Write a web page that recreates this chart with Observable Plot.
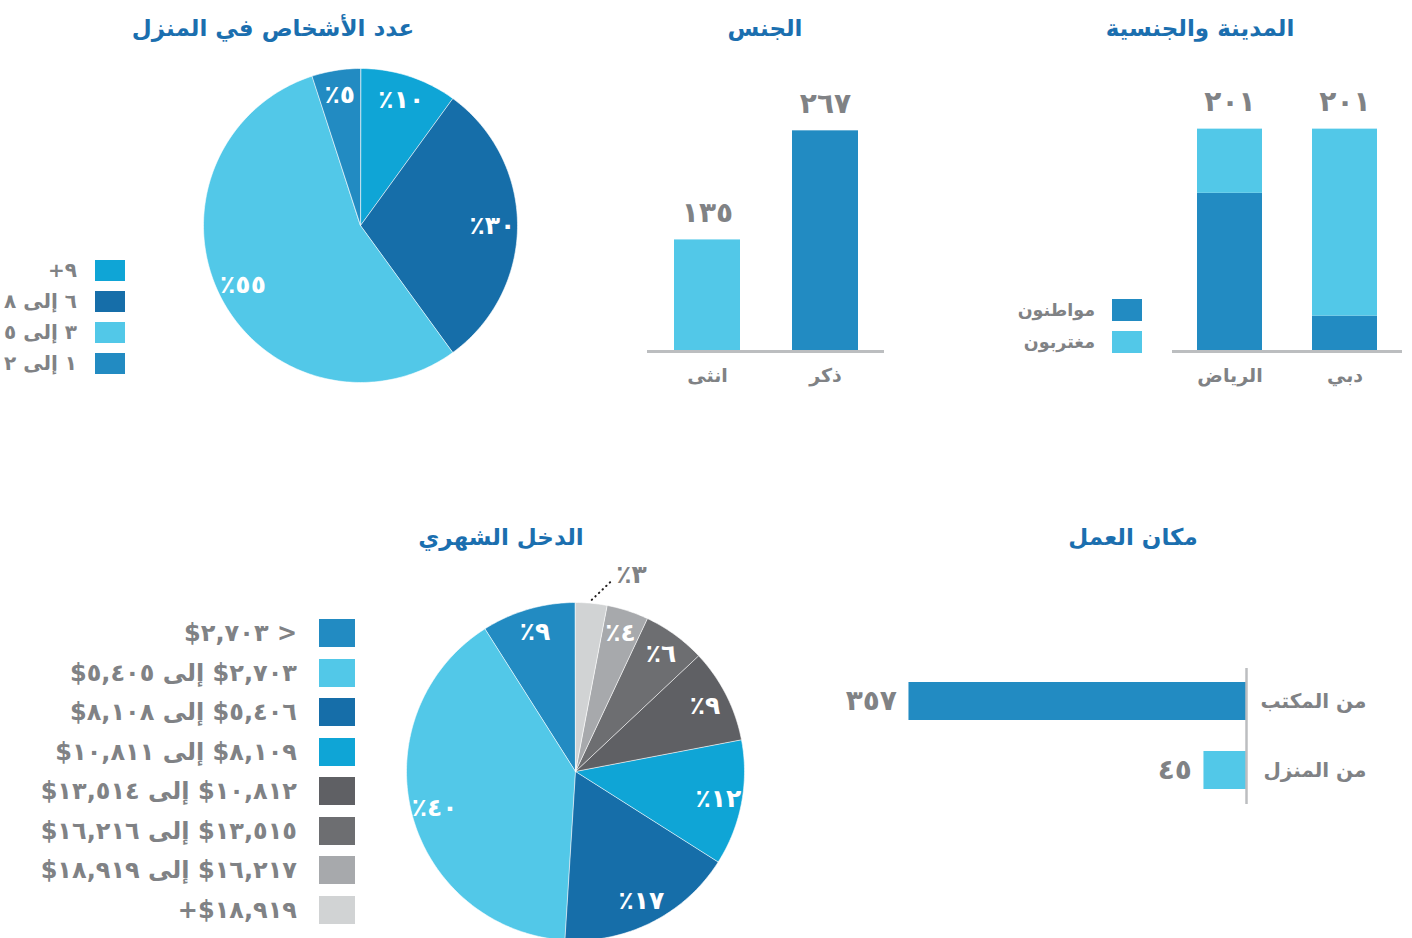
<!DOCTYPE html>
<html><head><meta charset="utf-8">
<script src="https://cdn.jsdelivr.net/npm/d3@7"></script>
<script src="https://cdn.jsdelivr.net/npm/@observablehq/plot@0.6"></script>
<style>
html,body{margin:0;padding:0;background:#fff;}
#root{position:relative;width:1412px;height:938px;overflow:hidden;font-family:"DejaVu Sans",sans-serif;}
.panel{position:absolute;}
.panel svg{overflow:visible;}
.title{position:absolute;color:#1b6faf;font-weight:bold;font-size:23px;direction:rtl;white-space:nowrap;transform:translate(-50%,-50%);line-height:1;}
.legbox{position:absolute;direction:rtl;}
.legbox > div{margin:0 !important;font-family:"DejaVu Sans",sans-serif !important;color:#808285;font-weight:bold;}
.legbox .lg-swatch{padding-bottom:0;}
.legbox .lg-swatch-label{overflow:visible !important;}
.legbox .lg-swatch > svg{margin-right:0;}
</style></head>
<body><div id="root"></div>
<script>
// ---------- data ----------
const householdSizes = ["٩+", "٦ إلى ٨", "٣ إلى ٥", "١ إلى ٢"];
const householdShares = [10, 30, 55, 5];

const genders = ["ذكر", "انثى"];
const genderCounts = [267, 135];

const cities = ["دبي", "الرياض"];
const nationalities = ["مواطنون", "مغتربون"];
const citizensByCity = [32, 143];
const expatsByCity = [169, 58];

const workPlaces = ["من المكتب", "من المنزل"];
const workCounts = [357, 45];

const incomeBands = [
  "< ٢,٧٠٣$",
  "٢,٧٠٣$ إلى ٥,٤٠٥$",
  "٥,٤٠٦$ إلى ٨,١٠٨$",
  "٨,١٠٩$ إلى ١٠,٨١١$",
  "١٠,٨١٢$ إلى ١٣,٥١٤$",
  "١٣,٥١٥$ إلى ١٦,٢١٦$",
  "١٦,٢١٧$ إلى ١٨,٩١٩$",
  "١٨,٩١٩$+"
];
const incomeShares = [9, 40, 17, 12, 9, 6, 4, 3];

const titles = ["عدد الأشخاص في المنزل", "الجنس", "المدينة والجنسية", "الدخل الشهري", "مكان العمل"];

// ---------- palette ----------
const MID = "#228bc2", LIGHT = "#52c8e8", DARK = "#166ea9", CYAN = "#0fa5d6";
const GRAY_TXT = "#808285", AXIS = "#bcbec0";
const householdColors = [CYAN, DARK, LIGHT, MID];
const incomeColors = [MID, LIGHT, DARK, CYAN, "#5f6064", "#6d6e71", "#a7a9ac", "#d1d3d4"];

const ar = n => String(n).replace(/\d/g, d => "٠١٢٣٤٥٦٧٨٩"[+d]);
const pct = v => "٪" + ar(v);

const root = document.getElementById("root");
function place(node, left, top) {
  const d = document.createElement("div");
  d.className = "panel"; d.style.left = left + "px"; d.style.top = top + "px";
  d.appendChild(node); root.appendChild(d); return d;
}
function title(text, cx, cy) {
  const d = document.createElement("div");
  d.className = "title"; d.textContent = text;
  d.style.left = cx + "px"; d.style.top = cy + "px";
  root.appendChild(d);
}
function legend(domain, range, {right, top, sw, sh, gap, pitch, fontSize}) {
  const lg = Plot.legend({color: {type: "ordinal", domain, range}, legend: "swatches", columns: 1,
    swatchWidth: sw, swatchHeight: sh, className: "lg"});
  const box = document.createElement("div");
  box.className = "legbox";
  box.style.right = (1412 - right) + "px"; box.style.top = top + "px";
  box.appendChild(lg);
  lg.style.fontSize = fontSize + "px";
  lg.querySelectorAll(".lg-swatch").forEach(s => { s.style.marginBottom = (pitch - sh) + "px"; s.style.lineHeight = sh + "px"; s.style.height = sh + "px"; });
  lg.querySelectorAll(".lg-swatch > svg").forEach(s => { s.style.marginLeft = gap + "px"; });
  root.appendChild(box);
}

function pie({labels, values, colors, radius, size, clockwise, labelR, fontSize}) {
  const total = d3.sum(values);
  const s = clockwise ? 1 : -1;
  let acc = 0;
  const slices = labels.map((key, i) => {
    const a0 = acc / total * 2 * Math.PI; acc += values[i];
    const a1 = acc / total * 2 * Math.PI;
    return {key, value: values[i], a0: s * a0, a1: s * a1, mid: s * (a0 + a1) / 2, share: values[i] / total};
  });
  const pts = slices.flatMap(sl => {
    const n = Math.max(2, Math.ceil(Math.abs(sl.a1 - sl.a0) / (Math.PI / 180)));
    const arr = [{key: sl.key, x: 0, y: 0}];
    for (let k = 0; k <= n; k++) {
      const a = sl.a0 + (sl.a1 - sl.a0) * k / n;
      arr.push({key: sl.key, x: Math.sin(a), y: Math.cos(a)});
    }
    return arr;
  });
  const inside = slices.filter(d => d.share >= 0.035);
  const outside = slices.filter(d => d.share < 0.035);
  const lead = d => ({x1: 1.02 * Math.sin(d.mid), y1: 1.02 * Math.cos(d.mid),
                       x2: 1.16 * Math.sin(d.mid + 0.1), y2: 1.16 * Math.cos(d.mid + 0.1)});
  const half = size / 2 / radius;
  return Plot.plot({
    width: size, height: size, margin: 0,
    x: {domain: [-half, half], axis: null},
    y: {domain: [-half, half], axis: null},
    color: {domain: labels, range: colors},
    style: {fontFamily: "DejaVu Sans, sans-serif", overflow: "visible"},
    marks: [
      Plot.line(pts, {x: "x", y: "y", z: "key", fill: "key", stroke: "white", strokeWidth: 0.6, curve: "linear-closed"}),
      Plot.text(inside, {x: d => labelR * Math.sin(d.mid), y: d => labelR * Math.cos(d.mid), text: d => pct(d.value),
        fill: "white", fontSize, fontWeight: "bold"}),
      Plot.link(outside, {x1: d => lead(d).x1, y1: d => lead(d).y1, x2: d => lead(d).x2, y2: d => lead(d).y2,
        stroke: "#231f20", strokeWidth: 2, strokeDasharray: "0.5,4.5", strokeLinecap: "round"}),
      Plot.text(outside, {x: d => lead(d).x2, y: d => lead(d).y2, text: d => pct(d.value), textAnchor: "start",
        dx: 3, dy: -4, fill: GRAY_TXT, fontSize, fontWeight: "bold"})
    ]
  });
}

// ---------- household pie ----------
title(titles[0], 273, 28);
place(pie({labels: householdSizes, values: householdShares, colors: householdColors,
  radius: 157, size: 330, clockwise: true, labelR: 0.84, fontSize: 25}), 195, 60);
legend(householdSizes, householdColors, {right: 125, top: 260, sw: 30, sh: 21, gap: 18, pitch: 31, fontSize: 20});

// ---------- gender ----------
title(titles[1], 765, 28);
const genderData = genders.map((g, i) => ({gender: g, count: genderCounts[i]}));
place(Plot.plot({
  width: 250, height: 340, marginLeft: 7, marginRight: 6, marginTop: 0, marginBottom: 59,
  style: {fontFamily: "DejaVu Sans, sans-serif", overflow: "visible"},
  x: {domain: genders, reverse: true, padding: 0.443, paddingOuter: 0.22},
  y: {domain: [0, 340], axis: null},
  color: {domain: genders, range: [MID, LIGHT]},
  marks: [
    Plot.barY(genderData, {x: "gender", y: "count", fill: "gender"}),
    Plot.ruleY([0], {stroke: AXIS, strokeWidth: 3}),
    Plot.text(genderData, {x: "gender", y: "count", text: d => ar(d.count), dy: -27, fill: GRAY_TXT, fontSize: 28, fontWeight: "bold"}),
    Plot.axisX({tickSize: 0, tickPadding: 17, fontSize: 19, color: GRAY_TXT, fontWeight: "bold", label: null})
  ]
}), 640, 70);

// ---------- city & nationality ----------
title(titles[2], 1200, 28);
const cityData = cities.flatMap((c, i) => [
  {city: c, nationality: nationalities[0], count: citizensByCity[i]},
  {city: c, nationality: nationalities[1], count: expatsByCity[i]}
]);
const cityTotals = cities.map((c, i) => ({city: c, total: citizensByCity[i] + expatsByCity[i]}));
place(Plot.plot({
  width: 242, height: 340, marginLeft: 2, marginRight: 10, marginTop: 0, marginBottom: 59,
  style: {fontFamily: "DejaVu Sans, sans-serif", overflow: "visible"},
  x: {domain: cities, reverse: true, padding: 0.433, paddingOuter: 0.21},
  y: {domain: [0, 254], axis: null},
  color: {domain: nationalities, range: [MID, LIGHT]},
  marks: [
    Plot.barY(cityData, {x: "city", y: "count", fill: "nationality"}),
    Plot.ruleY([0], {stroke: AXIS, strokeWidth: 3}),
    Plot.text(cityTotals, {x: "city", y: "total", text: d => ar(d.total), dy: -27, fill: GRAY_TXT, fontSize: 28, fontWeight: "bold"}),
    Plot.axisX({tickSize: 0, tickPadding: 17, fontSize: 19, color: GRAY_TXT, fontWeight: "bold", label: null})
  ]
}), 1170, 70);
legend(nationalities, [MID, LIGHT], {right: 1142, top: 299, sw: 30, sh: 22, gap: 17, pitch: 32, fontSize: 17.5});

// ---------- income pie ----------
title(titles[3], 501, 537);
place(pie({labels: incomeBands, values: incomeShares, colors: incomeColors,
  radius: 169, size: 440, clockwise: false, labelR: 0.86, fontSize: 25}), 355, 551);
legend(incomeBands, incomeColors, {right: 355, top: 619, sw: 36, sh: 28, gap: 22, pitch: 39.5, fontSize: 24});

// ---------- work place ----------
title(titles[4], 1133, 537);
const workData = workPlaces.map((p, i) => ({place: p, count: workCounts[i]}));
place(Plot.plot({
  width: 570, height: 180, marginLeft: 0, marginRight: 154, marginTop: 28, marginBottom: 16,
  style: {fontFamily: "DejaVu Sans, sans-serif", overflow: "visible"},
  x: {domain: [0, 440], reverse: true, axis: null},
  y: {domain: workPlaces, padding: 0.446, paddingOuter: 0.2, axis: null},
  color: {domain: workPlaces, range: [MID, LIGHT]},
  marks: [
    Plot.barX(workData, {x: "count", y: "place", fill: "place"}),
    Plot.ruleX([0], {stroke: AXIS, strokeWidth: 2.5}),
    Plot.text(workData, {x: "count", y: "place", text: d => ar(d.count), textAnchor: "end", dx: -12, fill: GRAY_TXT, fontSize: 28, fontWeight: "bold"}),
    Plot.text(workData, {y: "place", text: "place", frameAnchor: "right", textAnchor: "end", dx: 120, fill: GRAY_TXT, fontSize: 20, fontWeight: "bold"})
  ]
}), 830, 640);
</script>
</body></html>
